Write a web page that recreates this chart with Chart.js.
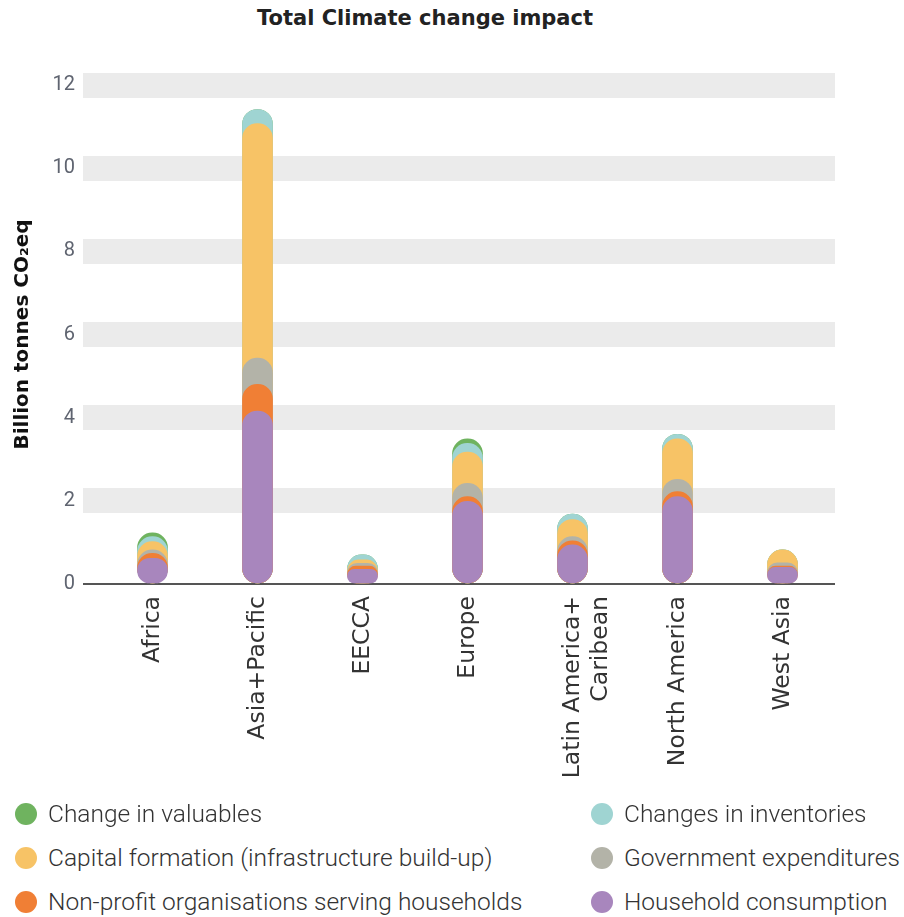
<!DOCTYPE html>
<html>
<head>
<meta charset="utf-8">
<title>Total Climate change impact</title>
<script src="https://cdn.jsdelivr.net/npm/chart.js@4"></script>
<style>
    body { margin: 0; background: #fff; }
    #wrap { position: relative; width: 904px; height: 917px; overflow: hidden; }
    #chartBox { position: absolute; left: 0; top: 0; width: 904px; height: 800px; }
    #title {
        position: absolute; left: 0; top: 6px; width: 850px; text-align: center;
        font: bold 21px "DejaVu Sans", sans-serif; color: #222;
    }
    .legend-item {
        position: absolute; display: flex; align-items: center;
        font: 300 24.5px Roboto, sans-serif; color: #333; white-space: nowrap;
    }
    .legend-item .dot {
        width: 22px; height: 22px; border-radius: 50%; margin-right: 11px; flex: none;
    }
</style>
</head>
<body>
<div id="wrap">
    <div id="title">Total Climate change impact</div>
    <div id="chartBox"><canvas id="impactChart"></canvas></div>
    <div id="legend"></div>
</div>
<script>
// Regions on the x axis
const regions = ['Africa', 'Asia+Pacific', 'EECCA', 'Europe', ['Latin America+', 'Caribean'], 'North America', 'West Asia'];

// Billion tonnes CO2eq per final demand category
const householdConsumption = [0.62, 4.16, 0.35, 1.99, 0.94, 2.10, 0.40];
const nonProfit            = [0.12, 0.64, 0.08, 0.11, 0.10, 0.12, 0.03];
const governmentExp        = [0.08, 0.63, 0.07, 0.32, 0.10, 0.30, 0.08];
const capitalFormation     = [0.20, 5.64, 0.08, 0.75, 0.41, 0.97, 0.31];
const inventoryChanges     = [0.12, 0.34, 0.12, 0.21, 0.13, 0.11, 0.00];
const valuablesChange      = [0.09, 0.00, 0.00, 0.11, 0.00, 0.00, 0.00];

const yTicks = [0, 2, 4, 6, 8, 10, 12];

// bottom-to-top stacking order
const series = [
    { label: 'Household consumption', data: householdConsumption, color: '#a886bd' },
    { label: 'Non-profit organisations serving households', data: nonProfit, color: '#f07f35' },
    { label: 'Government expenditures', data: governmentExp, color: '#b3b3a8' },
    { label: 'Capital formation (infrastructure build-up)', data: capitalFormation, color: '#f7c366' },
    { label: 'Changes in inventories', data: inventoryChanges, color: '#9fd4d2' },
    { label: 'Change in valuables', data: valuablesChange, color: '#6fb35f' }
];

// legend layout: [label, column, row]
const legendLayout = [
    ['Change in valuables', 0, 0],
    ['Capital formation (infrastructure build-up)', 0, 1],
    ['Non-profit organisations serving households', 0, 2],
    ['Changes in inventories', 1, 0],
    ['Government expenditures', 1, 1],
    ['Household consumption', 1, 2]
];

// Each bar is drawn from 0 up to the running total so the rounded caps overlap
const running = regions.map(() => 0);
const datasets = series.map(s => {
    const tops = s.data.map((v, i) => {
        running[i] += v;
        return +running[i].toFixed(3);
    });
    return {
        label: s.label,
        data: tops,
        backgroundColor: s.color,
        borderWidth: 0,
        borderRadius: 15,
        borderSkipped: false,
        barThickness: 30
    };
});

const legendEl = document.getElementById('legend');
legendLayout.forEach(([label, col, row]) => {
    const s = series.find(x => x.label === label);
    const item = document.createElement('div');
    item.className = 'legend-item';
    item.style.left = (col === 0 ? 15 : 591) + 'px';
    item.style.top = (799 + row * 44) + 'px';
    item.innerHTML = '<span class="dot" style="background:' + s.color + '"></span>' + label;
    legendEl.appendChild(item);
});

new Chart(document.getElementById('impactChart'), {
    type: 'bar',
    data: { labels: regions, datasets: datasets },
    options: {
        responsive: true,
        maintainAspectRatio: false,
        animation: false,
        layout: { padding: { top: 85, right: 69, left: 0, bottom: 0 } },
        plugins: {
            legend: { display: false },
            tooltip: { enabled: false }
        },
        scales: {
            x: {
                stacked: true,
                grid: { display: false, drawTicks: false },
                border: { display: false },
                ticks: {
                    minRotation: 90,
                    maxRotation: 90,
                    padding: 12,
                    color: '#333',
                    font: { family: 'DejaVu Sans', size: 23.5 }
                },
                afterFit(scale) { scale.height = 216; }
            },
            y: {
                stacked: false,
                min: 0,
                max: 12,
                afterBuildTicks(scale) { scale.ticks = yTicks.map(v => ({ value: v })); },
                grid: {
                    color: ctx => ctx.tick && ctx.tick.value === 0 ? '#555' : '#ebebeb',
                    lineWidth: ctx => ctx.tick && ctx.tick.value === 0 ? 2 : 25,
                    drawTicks: true,
                    tickLength: 17
                },
                border: { display: false },
                ticks: {
                    padding: 8,
                    color: '#5f6470',
                    font: { family: 'Roboto', size: 20 }
                },
                title: {
                    display: true,
                    text: 'Billion tonnes CO₂eq',
                    color: '#111',
                    padding: { top: 11, bottom: 0 },
                    font: { family: 'DejaVu Sans', size: 20, weight: 'bold' }
                },
                afterFit(scale) { scale.width = 100; }
            }
        }
    }
});
</script>
</body>
</html>
